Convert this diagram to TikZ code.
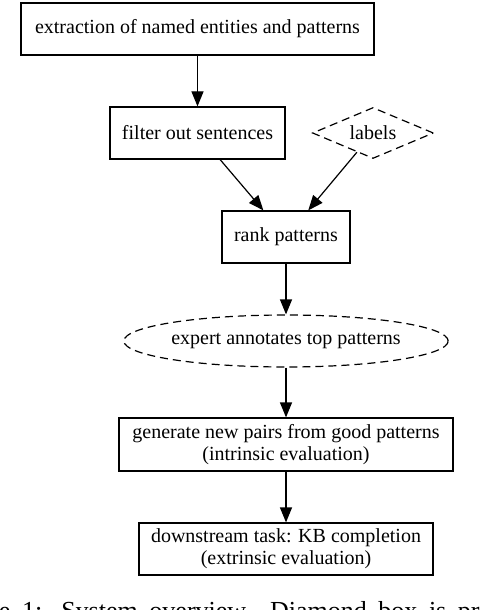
\documentclass[tikz,border=0pt]{standalone}
\usepackage{fontspec}
\setmainfont{Liberation Serif}
\usetikzlibrary{arrows.meta,shapes.geometric}
\tikzset{
  stage/.style={draw,rectangle,minimum height=26pt,inner sep=0pt,align=center},
  dashy/.style={dash pattern=on 4pt off 2.5pt},
  flow/.style={-{Triangle[length=7.5pt,width=6pt]}}
}
\begin{document}
\begin{tikzpicture}[x=0.5pt,y=-0.5pt,line width=0.6pt,font=\fontsize{10}{11}\selectfont]
      \useasboundingbox (0,0) rectangle (488,610);
      \draw
        (197.5,29) node[stage,minimum width=176.5pt] (0){extraction of named entities and patterns}
        (197.5,133) node[stage,minimum width=87.5pt] (1){filter out sentences}
        (373,133) node[draw,dashy,diamond,aspect=2.4,inner sep=0pt,minimum width=60.5pt,minimum height=25.5pt] (2){labels}
        (286,237) node[stage,minimum width=64pt] (3){rank patterns}
        (286,341) node[draw,dashy,ellipse,inner sep=0pt,minimum width=161pt,minimum height=26pt] (4){expert annotates top patterns}
        (286,444.5) node[stage,minimum width=167pt,minimum height=26.5pt] (5){generate new pairs from good patterns\\(intrinsic evaluation)}
        (286,549) node[stage,minimum width=147pt] (6){downstream task: KB completion\\(extrinsic evaluation)};
      % caption, cut off by the page edges as in the source
      \node[anchor=base west,inner sep=0pt,font=\fontsize{13}{15}\selectfont] (7) at (-58,619.5)
        {\spaceskip=5.8pt\relax\xspaceskip=9.5pt\relax Figure 1: System overview. Diamond box is pr};
      \begin{scope}[flow]
        \draw (0) to (1);
        \draw (1) to (3);
        \draw (2) to (3);
        \draw (3) to (4);
        \draw (4) to (5);
        \draw (5) to (6);
      \end{scope}
    \end{tikzpicture}
\end{document}
